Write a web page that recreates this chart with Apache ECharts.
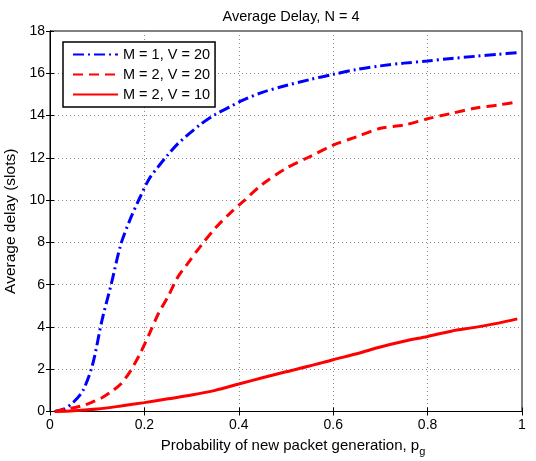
<!DOCTYPE html>
<html><head><meta charset="utf-8">
<script src="https://cdn.jsdelivr.net/npm/echarts@6/dist/echarts.min.js"></script>
<style>html,body{margin:0;padding:0;background:#fff}#c{width:536px;height:461px}</style>
</head><body><div id="c"></div>
<script>
const titleText = 'Average Delay, N = 4';
const seriesNames = ['M = 1, V = 20', 'M = 2, V = 20', 'M = 2, V = 10'];
const xTicks = [0, 0.2, 0.4, 0.6, 0.8, 1];
const yTicks = [0, 2, 4, 6, 8, 10, 12, 14, 16, 18];
const xA = [0.01,0.03,0.05,0.07,0.09,0.11,0.13,0.15,0.17,0.19,0.21,0.23,0.25,0.27,0.29,0.32,0.35,0.38,0.41,0.45,0.5,0.55,0.6,0.65,0.7,0.75,0.8,0.85,0.9,0.95,0.99];
const m1v20 = [0.0,0.12,0.45,1.0,2.2,4.3,6.05,7.9,9.1,10.1,11.0,11.6,12.15,12.65,13.05,13.6,14.05,14.4,14.74,15.1,15.42,15.7,15.95,16.18,16.35,16.48,16.58,16.7,16.8,16.9,16.97];
const m2v20 = [0.0,0.1,0.18,0.28,0.45,0.65,0.94,1.3,1.9,2.7,3.65,4.65,5.43,6.33,6.95,7.85,8.67,9.35,9.95,10.75,11.5,12.05,12.6,13.0,13.4,13.55,13.85,14.1,14.35,14.5,14.65];
const xB = [0.01,0.05,0.1,0.15,0.2,0.25,0.3,0.35,0.4,0.45,0.5,0.55,0.6,0.65,0.7,0.75,0.8,0.85,0.9,0.95,0.99];
const m2v10 = [0.0,0.04,0.12,0.26,0.42,0.6,0.78,1.0,1.3,1.6,1.88,2.15,2.45,2.73,3.05,3.32,3.55,3.8,3.98,4.18,4.38];

const zip = (xs, ys) => xs.map((x, i) => [x, ys[i]]);
const font = 'Liberation Sans, Arial, Helvetica, sans-serif';
const chart = echarts.init(document.getElementById('c'), null, {renderer: 'canvas'});
const grid = {left: 50, right: 14, top: 31, bottom: 49.5, outerBoundsMode: 'none', containLabel: false,
  show: true, borderColor: '#000', borderWidth: 1, backgroundColor: '#fff'};
const split = {show: true, lineStyle: {color: '#888', type: [1, 3], width: 1}};
const xMin = xTicks[0], xMax = xTicks[xTicks.length-1], xInt = xTicks[1]-xTicks[0];
const yMin = yTicks[0], yMax = yTicks[yTicks.length-1], yInt = yTicks[1]-yTicks[0];
chart.setOption({
  animation: false,
  backgroundColor: '#fff',
  title: {text: titleText, left: 286, top: 4, textAlign: 'center', textStyle: {fontFamily: font, fontSize: 14.5, fontWeight: 'normal', color: '#000'}},
  grid: grid,
  legend: {
    show: true, orient: 'vertical', left: 63, top: 42, data: seriesNames,
    backgroundColor: '#fff', borderColor: '#000', borderWidth: 1.5,
    padding: [5, 5, 5, 9], itemGap: 5, itemWidth: 45, itemHeight: 14,
    itemStyle: {opacity: 0},
    textStyle: {fontFamily: font, fontSize: 14.5, color: '#000'}
  },
  xAxis: [{
    type: 'value', min: xMin, max: xMax, interval: xInt,
    name: 'Probability of new packet generation, p{sub|g}', nameLocation: 'middle', nameGap: 23,
    nameTextStyle: {fontFamily: font, fontSize: 15, color: '#000', padding: [0, 0, 0, 14],
      rich: {sub: {fontFamily: font, fontSize: 11, padding: [12, 0, 0, 0], color: '#000'}}},
    axisLine: {show: true, lineStyle: {color: '#000', width: 1}},
    axisTick: {show: true, inside: true, length: 4, lineStyle: {color: '#000'}},
    axisLabel: {fontFamily: font, fontSize: 14, color: '#000', margin: 7},
    splitLine: split
  }, {
    type: 'value', min: xMin, max: xMax, interval: xInt, position: 'top',
    axisLine: {show: true, lineStyle: {color: '#000'}},
    axisTick: {show: true, inside: true, length: 4, lineStyle: {color: '#000'}},
    axisLabel: {show: false}, splitLine: {show: false}
  }],
  yAxis: [{
    type: 'value', min: yMin, max: yMax, interval: yInt,
    name: 'Average delay (slots)', nameLocation: 'middle', nameGap: 25, nameRotate: 90,
    nameTextStyle: {fontFamily: font, fontSize: 15.5, color: '#000'},
    axisLine: {show: true, lineStyle: {color: '#000', width: 1}},
    axisTick: {show: true, inside: true, length: 4, lineStyle: {color: '#000'}},
    axisLabel: {fontFamily: font, fontSize: 14, color: '#000', margin: 5},
    splitLine: split
  }, {
    type: 'value', min: yMin, max: yMax, interval: yInt, position: 'right',
    axisLine: {show: true, lineStyle: {color: '#000'}},
    axisTick: {show: true, inside: true, length: 4, lineStyle: {color: '#000'}},
    axisLabel: {show: false}, splitLine: {show: false}
  }],
  series: [
    {name: seriesNames[0], type: 'line', data: zip(xA, m1v20), smooth: 0.3, showSymbol: false, symbol: 'none',
     lineStyle: {color: '#0000ff', width: 3, type: [11, 4, 2, 4]}, itemStyle: {color: '#0000ff'}},
    {name: seriesNames[1], type: 'line', data: zip(xA, m2v20), smooth: 0.3, showSymbol: false, symbol: 'none',
     lineStyle: {color: '#ff0000', width: 3, type: [10, 6]}, itemStyle: {color: '#ff0000'}},
    {name: seriesNames[2], type: 'line', data: zip(xB, m2v10), smooth: 0.3, showSymbol: false, symbol: 'none',
     lineStyle: {color: '#ff0000', width: 3, type: 'solid'}, itemStyle: {color: '#ff0000'}}
  ]
});
</script></body></html>
